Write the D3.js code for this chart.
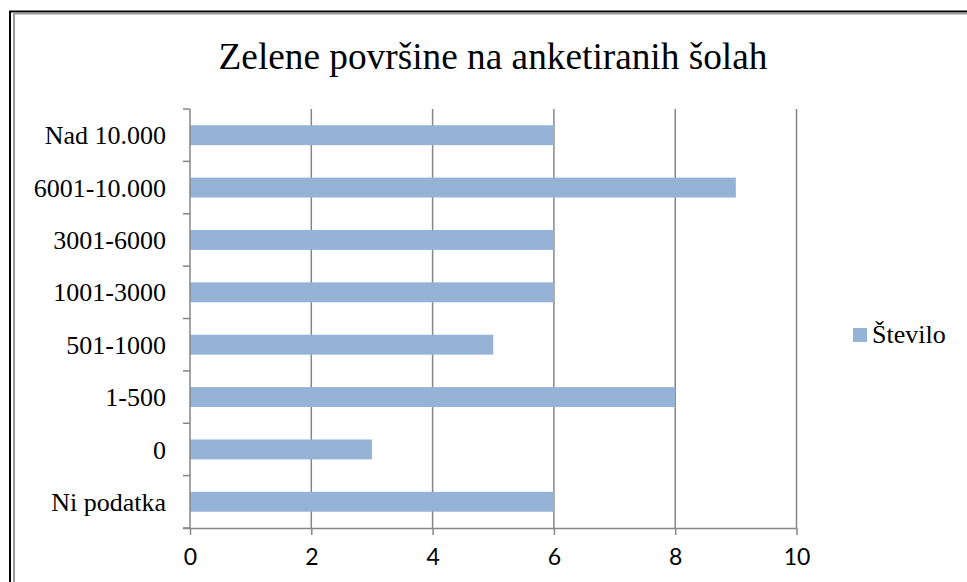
<!DOCTYPE html>
<html><head><meta charset="utf-8">
<script src="https://cdn.jsdelivr.net/npm/d3@7"></script>
<style>html,body{margin:0;padding:0;background:#fff;}svg{display:block;}</style>
</head><body>
<script>
const categories = ["Nad 10.000","6001-10.000","3001-6000","1001-3000","501-1000","1-500","0","Ni podatka"];
const values = [6, 9, 6, 6, 5, 8, 3, 6];
const xTicks = [0, 2, 4, 6, 8, 10];
const seriesName = "Število";
const title = "Zelene površine na anketiranih šolah";

(function () {
const W = 967, H = 582;
const svg = d3.select("body").append("svg").attr("width", W).attr("height", H);

// frame
svg.append("path").attr("d", `M10,${H+5} V11.5 H${W+5}`).attr("fill","none").attr("stroke","#000").attr("stroke-width",2);
svg.append("path").attr("d", `M14,${H+5} V13.5 H${W+5}`).attr("fill","none").attr("stroke","#9a9a9a").attr("stroke-width",2);

const pL = 190, pR = 796.5, pT = 109, pB = 528;
const x = d3.scaleLinear().domain([0, 10]).range([pL, pR]);
const y = d3.scaleBand().domain(categories).range([pT, pB]).paddingInner(0.62).paddingOuter(0.31);
const band = d3.scaleBand().domain(categories).range([pT, pB]);

const grid = "#868686";
// gridlines
svg.append("g").selectAll("line").data(xTicks.filter(d => d > 0)).join("line")
  .attr("x1", d => x(d)).attr("x2", d => x(d)).attr("y1", pT).attr("y2", pB)
  .attr("stroke", grid).attr("stroke-width", 1.5);

// bars
svg.append("g").selectAll("rect").data(categories).join("rect")
  .attr("x", x(0)).attr("y", d => y(d))
  .attr("width", (d, i) => x(values[i]) - x(0)).attr("height", y.bandwidth())
  .attr("fill", "#95b3d7");

// x axis
const xAxis = d3.axisBottom(x).tickValues(xTicks).tickSize(7).tickPadding(14).tickSizeOuter(0);
const gx = svg.append("g").attr("transform", `translate(0,${pB})`).call(xAxis);
gx.select(".domain").attr("stroke", grid).attr("stroke-width", 1.5).attr("d", `M${pL-7},0.5H${pR}`);
gx.selectAll(".tick line").attr("stroke", grid).attr("stroke-width", 1.5);
gx.selectAll(".tick text").attr("fill", "#000").style("font-family", "Lato, 'DejaVu Sans', sans-serif").style("font-size", "23px");

// y axis
const gy = svg.append("g").attr("transform", `translate(${pL},0)`);
gy.append("line").attr("x1", 0).attr("x2", 0).attr("y1", pT).attr("y2", pB).attr("stroke", grid).attr("stroke-width", 1.5);
const bounds = categories.map(c => band(c)).concat([pB]);
gy.selectAll("line.tk").data(bounds).join("line").attr("class","tk")
  .attr("x1", -7).attr("x2", 0).attr("y1", d => d).attr("y2", d => d)
  .attr("stroke", grid).attr("stroke-width", 1.5);
gy.selectAll("text").data(categories).join("text")
  .attr("x", -24).attr("y", d => band(d) + band.bandwidth()/2)
  .attr("dy", "0.35em").attr("text-anchor", "end")
  .style("font-family", "'Liberation Serif', 'Times New Roman', serif").style("font-size", "26px")
  .text(d => d);

// title
svg.append("text").attr("x", 493).attr("y", 69).attr("text-anchor", "middle")
  .style("font-family", "'Liberation Serif', 'Times New Roman', serif").style("font-size", "37.3px")
  .text(title);

// legend
const lg = svg.append("g");
lg.append("rect").attr("x", 853).attr("y", 328).attr("width", 14).attr("height", 14).attr("fill", "#95b3d7");
lg.append("text").attr("x", 872).attr("y", 343)
  .style("font-family", "'Liberation Serif', 'Times New Roman', serif").style("font-size", "26px")
  .text(seriesName);
})();
</script>
</body></html>
